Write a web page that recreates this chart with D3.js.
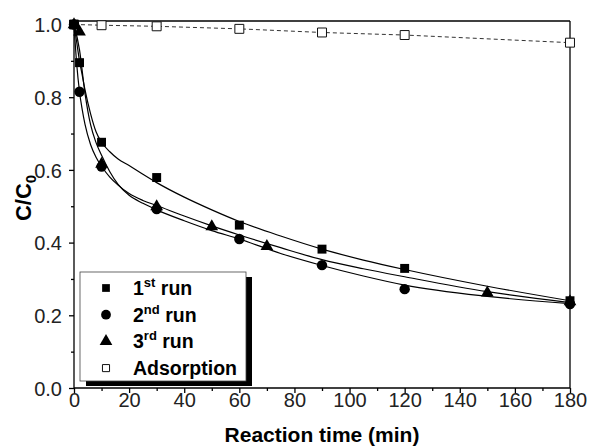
<!DOCTYPE html>
<html><head><meta charset="utf-8">
<script src="https://cdn.jsdelivr.net/npm/d3@7"></script>
<style>body{margin:0;background:#fff}svg{display:block}text{font-family:"Liberation Sans",Arial,sans-serif}</style>
</head><body><svg id="c" width="592" height="447"></svg>
<script>
// ---- data ----
const run1X = [0, 2, 10, 30, 60, 90, 120, 180];
const run1Y = [1.0, 0.895, 0.676, 0.579, 0.448, 0.382, 0.329, 0.240];
const run2X = [0, 2, 10, 30, 60, 90, 120, 180];
const run2Y = [1.0, 0.815, 0.609, 0.492, 0.41, 0.338, 0.272, 0.231];
const run3X = [0, 2, 10, 30, 50, 70, 150, 180];
const run3Y = [1.0, 0.98, 0.616, 0.499, 0.444, 0.39, 0.262, 0.238];
const adsX = [0, 10, 30, 60, 90, 120, 180];
const adsY = [1.0, 0.998, 0.995, 0.988, 0.978, 0.971, 0.95];
// fitted curves
const fit1X = [0, 1, 2, 3, 4, 6, 8, 10, 13, 16, 20, 25, 30, 40, 50, 60, 75, 90, 105, 120, 150, 180];
const fit1Y = [1.0, 0.95, 0.90, 0.86, 0.82, 0.755, 0.705, 0.676, 0.65, 0.63, 0.612, 0.588, 0.565, 0.525, 0.49, 0.458, 0.418, 0.382, 0.352, 0.326, 0.28, 0.24];
const fit2X = [0, 1, 2, 3, 4, 6, 8, 10, 13, 16, 20, 25, 30, 40, 50, 60, 75, 90, 105, 120, 150, 180];
const fit2Y = [1.0, 0.89, 0.815, 0.765, 0.725, 0.67, 0.635, 0.61, 0.58, 0.558, 0.535, 0.516, 0.502, 0.473, 0.446, 0.421, 0.386, 0.353, 0.328, 0.306, 0.265, 0.235];
const fit3X = [0, 2, 4, 6, 8, 10, 13, 16, 20, 25, 30, 40, 50, 60, 75, 90, 105, 120, 150, 180];
const fit3Y = [1.0, 0.93, 0.81, 0.725, 0.675, 0.64, 0.595, 0.56, 0.53, 0.508, 0.49, 0.46, 0.433, 0.41, 0.37, 0.337, 0.308, 0.283, 0.252, 0.232];
const xTicks = [0, 20, 40, 60, 80, 100, 120, 140, 160, 180];
const yTicks = [0.0, 0.2, 0.4, 0.6, 0.8, 1.0];
const legendLabels = [["1", "st", " run"], ["2", "nd", " run"], ["3", "rd", " run"], ["Adsorption", "", ""]];

// ---- layout ----
const svg = d3.select("#c");
const L = 74, R = 570, T = 21, B = 388;
const x = d3.scaleLinear().domain([0, 180]).range([L, R]);
const y = d3.scaleLinear().domain([0, 1.0096]).range([B, T]);

// frame top/right
svg.append("line").attr("x1", L).attr("x2", R).attr("y1", T).attr("y2", T).attr("stroke", "#000").attr("stroke-width", 1.3);
svg.append("line").attr("x1", R).attr("x2", R).attr("y1", T).attr("y2", B).attr("stroke", "#000").attr("stroke-width", 1.3);

// axes
const xAxis = svg.append("g").attr("transform", `translate(0,${B})`)
  .call(d3.axisBottom(x).tickValues(xTicks).tickFormat(d3.format("d")).tickSize(5).tickSizeOuter(0));
const xMinor = svg.append("g").attr("transform", `translate(0,${B})`)
  .call(d3.axisBottom(x).tickValues(d3.range(10, 180, 20)).tickFormat("").tickSize(3).tickSizeOuter(0));
xMinor.select(".domain").remove();
const yAxis = svg.append("g").attr("transform", `translate(${L},0)`)
  .call(d3.axisLeft(y).tickValues(yTicks).tickFormat(d3.format(".1f")).tickSize(5).tickSizeOuter(0));
const yMinor = svg.append("g").attr("transform", `translate(${L},0)`)
  .call(d3.axisLeft(y).tickValues([0.1, 0.3, 0.5, 0.7, 0.9]).tickFormat("").tickSize(3).tickSizeOuter(0));
yMinor.select(".domain").remove();
[xAxis, yAxis, xMinor, yMinor].forEach(g => {
  g.selectAll("path,line").attr("stroke", "#000").attr("stroke-width", 1.3);
  g.selectAll("text").attr("font-size", 20).attr("fill", "#222").attr("font-family", '"Liberation Sans",Arial,sans-serif');
});
xAxis.selectAll("text").attr("y", 19).attr("dy", 0);
yAxis.selectAll("text").attr("x", -12).attr("dy", "0.36em");
xAxis.select(".domain").attr("d", `M${L},0H${R}`);
yAxis.select(".domain").attr("d", `M0,${B}V${T}`);

// axis titles
svg.append("text").attr("x", (L + R) / 2).attr("y", 442).attr("text-anchor", "middle")
  .attr("font-size", 21).attr("font-weight", "bold").text("Reaction time (min)");
const yt = svg.append("text").attr("transform", `translate(31,198) rotate(-90)`)
  .attr("text-anchor", "middle").attr("font-size", 22).attr("font-weight", "bold");
yt.append("tspan").text("C/C");
yt.append("tspan").attr("font-size", 15).attr("dy", 5).text("0");

// fits
const line = d3.line().x(d => x(d[0])).y(d => y(d[1])).curve(d3.curveMonotoneX);
[[fit1X, fit1Y], [fit2X, fit2Y], [fit3X, fit3Y]].forEach(([xs, ys]) => {
  svg.append("path").attr("d", line(xs.map((v, i) => [v, ys[i]])))
    .attr("fill", "none").attr("stroke", "#000").attr("stroke-width", 1.2);
});
// adsorption dashed
svg.append("path").attr("d", d3.line().x(d => x(d[0])).y(d => y(d[1]))(adsX.map((v, i) => [v, adsY[i]])))
  .attr("fill", "none").attr("stroke", "#333").attr("stroke-width", 1).attr("stroke-dasharray", "4,3");

// markers
const sq = d3.symbol().type(d3.symbolSquare).size(80);
const ci = d3.symbol().type(d3.symbolCircle).size(85);
const tr = d3.symbol().type(d3.symbolTriangle).size(70);
function pts(xs, ys, sym, fill, stroke) {
  svg.append("g").selectAll("path").data(xs.map((v, i) => [v, ys[i]])).join("path")
    .attr("transform", d => `translate(${x(d[0])},${y(d[1])})`)
    .attr("d", sym).attr("fill", fill).attr("stroke", stroke).attr("stroke-width", 1);
}
pts(adsX, adsY, sq, "#fff", "#111");
pts(run3X, run3Y, tr, "#000", "none");
pts(run2X, run2Y, ci, "#000", "none");
pts(run1X, run1Y, sq, "#000", "none");

// legend
const lx = 80, ly = 272, lw = 166, lh = 109;
svg.append("rect").attr("x", lx + 6).attr("y", ly + 5).attr("width", lw).attr("height", lh).attr("fill", "#000");
svg.append("rect").attr("x", lx).attr("y", ly).attr("width", lw).attr("height", lh).attr("fill", "#fff").attr("stroke", "#444").attr("stroke-width", 0.8);
const legSyms = [[d3.symbol().type(d3.symbolSquare).size(60), "#000", "none"], [d3.symbol().type(d3.symbolCircle).size(75), "#000", "none"], [tr, "#000", "none"], [d3.symbol().type(d3.symbolSquare).size(50), "#fff", "#111"]];
legendLabels.forEach((lab, i) => {
  const cy = 288 + i * 26.7;
  svg.append("path").attr("transform", `translate(106,${cy})`).attr("d", legSyms[i][0])
    .attr("fill", legSyms[i][1]).attr("stroke", legSyms[i][2]);
  const t = svg.append("text").attr("x", 133).attr("y", cy + 7).attr("font-size", 19.5).attr("font-weight", "bold");
  t.append("tspan").text(lab[0]);
  if (lab[1]) {
    t.append("tspan").attr("font-size", 13).attr("dy", -8).text(lab[1]);
    t.append("tspan").attr("dy", 8).text(lab[2]);
  }
});
</script></body></html>
